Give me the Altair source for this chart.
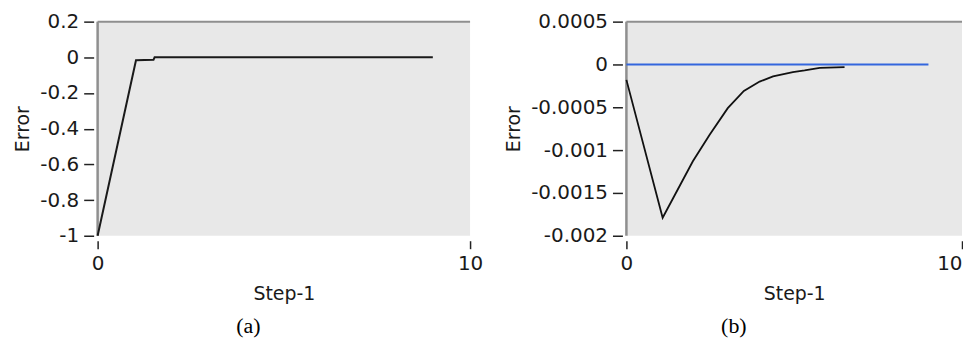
import altair as alt
import pandas as pd

# Panel (a) data
a_x = [0, 1.03, 1.5, 1.53, 9]
a_y = [-1.0, -0.016, -0.014, 0.0, 0.0]
a_ticks = [-1, -0.8, -0.6, -0.4, -0.2, 0, 0.2]

# Panel (b) data
b_x = [0, 1.08, 1.53, 1.98, 2.48, 3.02, 3.5, 3.97, 4.37, 4.96, 5.31, 5.76, 6.5]
b_y = [-0.00018, -0.00179, -0.00146, -0.00113, -0.00082, -0.00051, -0.00031,
       -0.0002, -0.00014, -0.00009, -0.00007, -0.00004, -0.00003]
b_ref_x = [0, 9]
b_ref_y = [0, 0]
b_ticks = [-0.002, -0.0015, -0.001, -0.0005, 0, 0.0005]

x_ticks = [0, 10]
captions = ["(a)", "(b)"]

FONT = "DejaVu Sans"
LFS = 20
TFS = 19
H = 215
FRAME = "#8f8f8f"
LABEL_EXPR = "replace(datum.label, '\u2212', '-')"


def x_enc(last_align="center"):
    return alt.X(
        "x:Q",
        scale=alt.Scale(domain=[0, 10], nice=False, zero=False),
        axis=alt.Axis(values=x_ticks, title="Step-1", domain=False, offset=5,
                      tickSize=8, tickColor="#222222", tickWidth=1.5,
                      labelPadding=5, titlePadding=11, grid=False,
                      format="d", labelFlush=False, labelOverlap=False,
                      labelAlign={"condition": {"test": "datum.value == 10",
                                                "value": last_align},
                                  "value": "center"},
                      labelFont=FONT, labelFontSize=LFS, titleFont=FONT,
                      titleFontSize=TFS, titleFontWeight="normal",
                      labelColor="#1a1a1a", titleColor="#1a1a1a"),
    )


def y_enc(dom, ticks):
    return alt.Y(
        "y:Q",
        scale=alt.Scale(domain=dom, nice=False, zero=False),
        axis=alt.Axis(values=ticks, title="Error", domain=False, offset=4,
                      tickSize=10, tickColor="#222222", tickWidth=1.5,
                      labelPadding=5, titlePadding=7, grid=False,
                      format=".4~f", labelExpr=LABEL_EXPR,
                      labelFlush=False, labelOverlap=False,
                      labelFont=FONT, labelFontSize=LFS, titleFont=FONT,
                      titleFontSize=TFS, titleFontWeight="normal",
                      labelColor="#1a1a1a", titleColor="#1a1a1a"),
    )


def frame(w):
    left = alt.Chart(pd.DataFrame({"k": [0]})).mark_rule(
        color=FRAME, strokeWidth=2.5
    ).encode(x=alt.value(0), y=alt.value(0), y2=alt.value(H))
    top = alt.Chart(pd.DataFrame({"k": [0]})).mark_rule(
        color=FRAME, strokeWidth=2
    ).encode(x=alt.value(0), x2=alt.value(w), y=alt.value(0))
    return left, top


def caption(txt):
    return alt.TitleParams(txt, orient="bottom", anchor="middle", frame="bounds",
                           font="Liberation Serif", fontSize=22,
                           fontWeight="normal", color="#000000", offset=13)


# Panel (a)
WA = 374
df_a = pd.DataFrame({"x": a_x, "y": a_y})
line_a = alt.Chart(df_a).mark_line(color="#1a1a1a", strokeWidth=2).encode(
    x=x_enc(), y=y_enc([-1, 0.2], a_ticks)
)
la, ta = frame(WA)
panel_a = alt.layer(la, ta, line_a).properties(
    width=WA, height=H, title=caption(captions[0])
)

# Panel (b)
WB = 337
df_b = pd.DataFrame({"x": b_x, "y": b_y})
df_ref = pd.DataFrame({"x": b_ref_x, "y": b_ref_y})
ref_b = alt.Chart(df_ref).mark_line(color="#3366dd", strokeWidth=2).encode(
    x=x_enc("right"), y=y_enc([-0.002, 0.0005], b_ticks)
)
line_b = alt.Chart(df_b).mark_line(color="#111111", strokeWidth=1.8).encode(
    x=x_enc("right"), y=y_enc([-0.002, 0.0005], b_ticks)
)
lb, tb = frame(WB)
panel_b = alt.layer(lb, tb, ref_b, line_b).properties(
    width=WB, height=H, title=caption(captions[1])
)

chart = alt.hconcat(panel_a, panel_b, spacing=21).properties(
    padding={"left": 5, "top": 3, "right": 0, "bottom": 0},
    background="white",
).configure_view(
    stroke=None, fill="#e8e8e8"
)

chart.save("out.html", embed_options={"renderer": "svg", "actions": False})
